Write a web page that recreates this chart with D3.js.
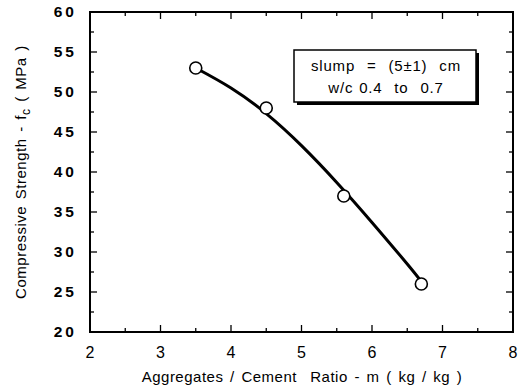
<!DOCTYPE html>
<html>
<head>
<meta charset="utf-8">
<script src="https://cdn.jsdelivr.net/npm/d3@7"></script>
<style>
  body { margin: 0; background: #fff; }
  text { font-family: "Liberation Sans", Arial, sans-serif; fill: #000; }
</style>
</head>
<body>
<div id="chart"></div>
<script>
// measured points
var ratio    = [3.5, 4.5, 5.6, 6.7];
var strength = [53, 48, 37, 26];

// fitted curve
var curveX = [3.5, 4.0, 4.5, 5.0, 5.5, 6.0, 6.5, 6.7];
var curveY = [53, 50.5, 47.3, 43.3, 38.7, 33.7, 28.5, 26.3];

var xTicks = [2, 3, 4, 5, 6, 7, 8];
var yTicks = [20, 25, 30, 35, 40, 45, 50, 55, 60];
var legendLines = ["slump  =  (5\u00b11)  cm", "w/c 0.4  to  0.7"];

var width = 526, height = 391;
var mLeft = 90, mRight = 513, mTop = 12, mBottom = 332;

var svg = d3.select("#chart").append("svg")
  .attr("width", width)
  .attr("height", height);

var x = d3.scaleLinear().domain([2, 8]).range([mLeft, mRight]);
var y = d3.scaleLinear().domain([20, 60]).range([mBottom, mTop]);

// ticks on all four sides, pointing inward
var xMinor = d3.range(2, 8.01, 0.5);
var yMinor = d3.range(20, 60.01, 2.5);

function tickLen(v, step) { return Math.abs(v / step - Math.round(v / step)) < 1e-6 ? 7 : 4; }

var tg = svg.append("g").attr("stroke", "#000").attr("stroke-width", 1.3);
xMinor.forEach(function(v) {
  var L = tickLen(v, 1);
  tg.append("line").attr("x1", x(v)).attr("x2", x(v)).attr("y1", mBottom).attr("y2", mBottom - L);
  tg.append("line").attr("x1", x(v)).attr("x2", x(v)).attr("y1", mTop).attr("y2", mTop + L);
});
yMinor.forEach(function(v) {
  var L = tickLen(v, 5);
  tg.append("line").attr("y1", y(v)).attr("y2", y(v)).attr("x1", mLeft).attr("x2", mLeft + L);
  tg.append("line").attr("y1", y(v)).attr("y2", y(v)).attr("x1", mRight).attr("x2", mRight - L);
});

// frame
svg.append("rect")
  .attr("x", mLeft).attr("y", mTop)
  .attr("width", mRight - mLeft).attr("height", mBottom - mTop)
  .attr("fill", "none").attr("stroke", "#000").attr("stroke-width", 2);

// tick labels
svg.append("g").selectAll("text").data(xTicks).enter().append("text")
  .attr("x", function(d) { return x(d); })
  .attr("y", 358)
  .attr("text-anchor", "middle")
  .style("font-size", "16px")
  .text(function(d) { return d; });

svg.append("g").selectAll("text").data(yTicks).enter().append("text")
  .attr("x", 77)
  .attr("y", function(d) { return y(d) + 5; })
  .attr("text-anchor", "end")
  .style("font-size", "15.5px")
  .style("font-weight", "bold")
  .style("letter-spacing", "3px")
  .text(function(d) { return d; });

// axis titles
svg.append("text")
  .attr("x", 302).attr("y", 382)
  .attr("text-anchor", "middle")
  .style("font-size", "15px")
  .style("letter-spacing", "0.5px")
  .style("word-spacing", "2px")
  .style("white-space", "pre")
  .text("Aggregates / Cement  Ratio - m ( kg / kg )");

var yt = svg.append("text")
  .attr("transform", "translate(26,172) rotate(-90)")
  .attr("text-anchor", "middle")
  .style("font-size", "15px")
  .style("letter-spacing", "0.5px")
  .style("word-spacing", "2px");
yt.append("tspan").text("Compressive Strength - f");
yt.append("tspan").attr("dy", 4).style("font-size", "12px").text("c");
yt.append("tspan").attr("dy", -4).text(" ( MPa )");

// curve
var line = d3.line()
  .x(function(d) { return x(d[0]); })
  .y(function(d) { return y(d[1]); })
  .curve(d3.curveNatural);

svg.append("path")
  .datum(d3.zip(curveX, curveY))
  .attr("d", line)
  .attr("fill", "none")
  .attr("stroke", "#000")
  .attr("stroke-width", 3);

// points
svg.append("g").selectAll("circle").data(d3.zip(ratio, strength)).enter().append("circle")
  .attr("cx", function(d) { return x(d[0]); })
  .attr("cy", function(d) { return y(d[1]); })
  .attr("r", 6)
  .attr("fill", "#fff")
  .attr("stroke", "#000")
  .attr("stroke-width", 1.6);

// legend box with shadow
var lg = svg.append("g");
lg.append("rect").attr("x", 297).attr("y", 53).attr("width", 182).attr("height", 52).attr("fill", "#000");
lg.append("rect").attr("x", 294).attr("y", 50).attr("width", 182).attr("height", 52)
  .attr("fill", "#fff").attr("stroke", "#000").attr("stroke-width", 1.5);
lg.selectAll("text").data(legendLines).enter().append("text")
  .attr("x", 386)
  .attr("y", function(d, i) { return 71 + i * 22; })
  .attr("text-anchor", "middle")
  .style("font-size", "15px")
  .style("letter-spacing", "0.8px")
  .style("word-spacing", "1px")
  .style("white-space", "pre")
  .text(function(d) { return d; });
</script>
</body>
</html>
